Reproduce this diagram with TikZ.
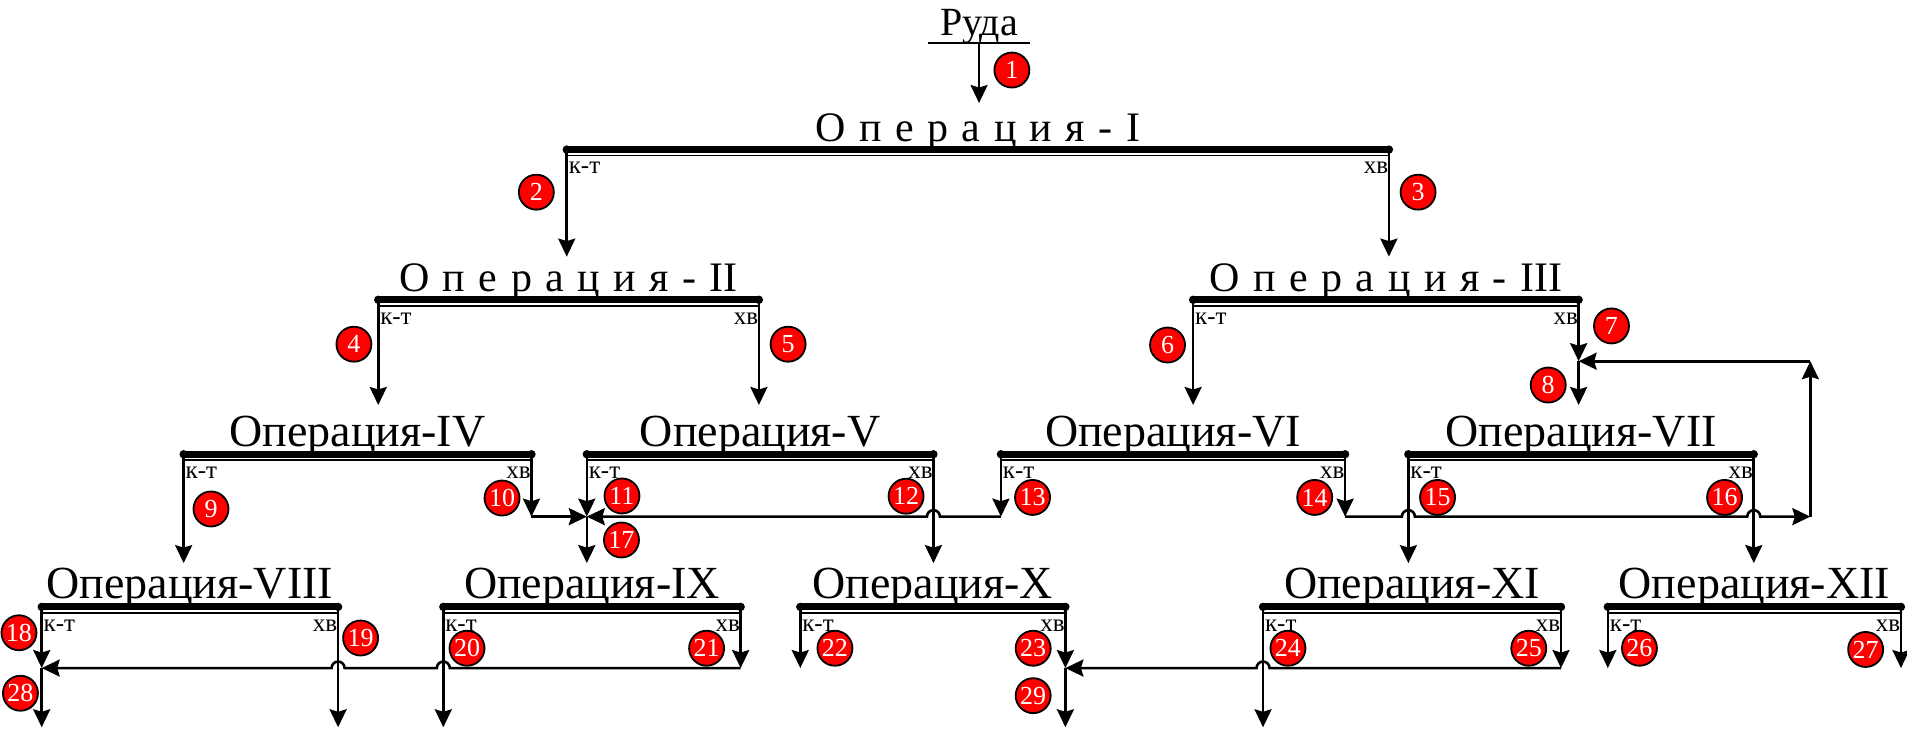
\documentclass[tikz,border=0pt]{standalone}
\usepackage{fontspec}
\setmainfont{Liberation Serif}
\usetikzlibrary{arrows.meta,calc}
\newcommand\opblock[6]{%
  \coordinate (#1-l) at (#2,#4);
  \coordinate (#1-r) at (#3,#4);
  \draw[barthick] (#1-l) -- (#1-r);
  \draw[barthin] ([yshift=-6pt]#1-l) -- ([yshift=-6pt]#1-r);
  \fill (#1-l) circle (4.2pt);
  \fill (#1-r) circle (4.2pt);
  \node[#5] (#1) at ($(#1-l)!0.5!(#1-r)+(0,-6.5)$) {#6};
  \node[kt] (#1-kt) at ($(#1-l)+(1.5,20)$) {к-т};
  \node[hv] (#1-hv) at ($(#1-r)+(-0.5,20)$) {хв};
}
\begin{document}
\begin{tikzpicture}[x=1.2162pt,y=-1.2162pt,
  flow/.style={line width=2.6pt,-{Stealth[length=18pt,width=17pt,inset=2.5pt]}},
  barthick/.style={line width=7pt},
  barthin/.style={line width=1.8pt},
  num/.style={circle,draw=black,line width=1.8pt,fill=red,text=white,minimum size=35pt,inner sep=0pt,font=\fontsize{26}{26}\selectfont},
  bigop/.style={anchor=base,inner sep=0pt,font=\fontsize{42}{42}\selectfont},
  op/.style={anchor=base,inner sep=0pt,font=\fontsize{46}{46}\selectfont},
  kt/.style={anchor=base west,inner sep=0pt,font=\fontsize{25}{25}\selectfont},
  hv/.style={anchor=base east,inner sep=0pt,font=\fontsize{25}{25}\selectfont},
]
\useasboundingbox (0,0) rectangle (1568,599);

% Ore
\node[anchor=base,inner sep=0pt,font=\fontsize{40}{40}\selectfont] (ruda) at (805,28.8) {Руда};
\coordinate (r-l) at (763,35.4);
\coordinate (r-r) at (847,35.4);
\coordinate (r-m) at (805,35.4);
\draw[line width=1.9pt] (r-l) -- (r-r);

% operations
\opblock{I}{466}{1142}{123}{bigop}{\spaceskip=13.5pt О п е р а ц и я - I}
\opblock{II}{311}{624}{246.5}{bigop}{\spaceskip=13.5pt О п е р а ц и я - II}
\opblock{III}{981}{1298}{246.5}{bigop}{\spaceskip=13.5pt О п е р а ц и я - III}
\opblock{IV}{151}{437}{373.5}{op}{Операция-IV}
\opblock{V}{482.5}{767.5}{373.5}{op}{Операция-V}
\opblock{VI}{823}{1106}{373.5}{op}{Операция-VI}
\opblock{VII}{1158}{1442}{373.5}{op}{Операция-VII}
\opblock{VIII}{34.3}{278}{499}{op}{Операция-VIII}
\opblock{IX}{364.5}{609}{499}{op}{Операция-IX}
\opblock{X}{658}{876}{499}{op}{Операция-X}
\opblock{XI}{1038.5}{1283.5}{499}{op}{Операция-XI}
\opblock{XII}{1322}{1563}{499}{op}{Операция-XII}

% connector end points
\coordinate (I-in) at (805,84.7);
\coordinate (II-in) at (466,211);
\coordinate (III-in) at (1142,211);
\coordinate (IV-in) at (311,333);
\coordinate (V-in) at (624,333);
\coordinate (VI-in) at (981,333);
\coordinate (j7) at (1298,297);
\coordinate (VII-in) at (1298,333);
\coordinate (j10) at (437,424.8);
\coordinate (j17) at (482.5,424.8);
\coordinate (IX-in) at (482.5,463);
\coordinate (j13) at (823,424.8);
\coordinate (j14) at (1106,424.8);
\coordinate (jR) at (1488.5,424.8);
\coordinate (jT) at (1488.5,297);
\coordinate (VIII-in) at (151,463);
\coordinate (X-in) at (767.5,463);
\coordinate (XI-in) at (1158,463);
\coordinate (XII-in) at (1442,463);
\coordinate (j18) at (34.3,549.3);
\coordinate (o28) at (34.3,598);
\coordinate (o19) at (278,598);
\coordinate (o20) at (364.5,598);
\coordinate (j21) at (609,549.3);
\coordinate (j22) at (658,549.3);
\coordinate (j23) at (876,549.3);
\coordinate (o29) at (876,598);
\coordinate (o24) at (1038.5,598);
\coordinate (j25) at (1283.5,549.3);
\coordinate (j26) at (1322,549.3);
\coordinate (j27) at (1563,549.3);
% line jump points
\coordinate (h1) at (V-r |- j13);
\coordinate (h2) at (VII-l |- j14);
\coordinate (h3) at (VII-r |- j14);
\coordinate (h4) at (IX-l |- j21);
\coordinate (h5) at (VIII-r |- j21);
\coordinate (h6) at (XI-l |- j25);

% connectors
\draw[flow] (r-m) -- (I-in);
\draw[flow] (I-l) -- (II-in);
\draw[flow] (I-r) -- (III-in);
\draw[flow] (II-l) -- (IV-in);
\draw[flow] (II-r) -- (V-in);
\draw[flow] (III-l) -- (VI-in);
\draw[flow] (III-r) -- (j7);
\draw[flow] (j7) -- (VII-in);
\draw[flow] (IV-l) -- (VIII-in);
\draw[flow] (IV-r) -- (j10);
\draw[flow] (j10) -- (j17);
\draw[flow] (V-l) -- (j17);
\draw[flow] (j17) -- (IX-in);
\draw[flow] (V-r) -- (X-in);
\draw[flow] (VI-l) -- (j13);
\draw[flow] (j13) -- ([xshift=6.5pt]h1) arc[start angle=0,end angle=180,radius=6.5pt] -- (j17);
\draw[flow] (VI-r) -- (j14);
\draw[flow] (j14) -- ([xshift=-6.5pt]h2) arc[start angle=180,end angle=0,radius=6.5pt]
  -- ([xshift=-6.5pt]h3) arc[start angle=180,end angle=0,radius=6.5pt] -- (jR);
\draw[flow] (jR) -- (jT);
\draw[flow] (jT) -- (j7);
\draw[flow] (VII-l) -- (XI-in);
\draw[flow] (VII-r) -- (XII-in);
\draw[flow] (VIII-l) -- (j18);
\draw[flow] (j18) -- (o28);
\draw[flow] (VIII-r) -- (o19);
\draw[flow] (IX-l) -- (o20);
\draw[flow] (IX-r) -- (j21);
\draw[flow] (j21) -- ([xshift=6.5pt]h4) arc[start angle=0,end angle=180,radius=6.5pt]
  -- ([xshift=6.5pt]h5) arc[start angle=0,end angle=180,radius=6.5pt] -- (j18);
\draw[flow] (X-l) -- (j22);
\draw[flow] (X-r) -- (j23);
\draw[flow] (j23) -- (o29);
\draw[flow] (XI-l) -- (o24);
\draw[flow] (XI-r) -- (j25);
\draw[flow] (j25) -- ([xshift=6.5pt]h6) arc[start angle=0,end angle=180,radius=6.5pt] -- (j23);
\draw[flow] (XII-l) -- (j26);
\draw[flow] (XII-r) -- (j27);

% stream numbers
\node[num] (c1) at (832,57.6) {1};
\node[num] (c2) at (441,158) {2};
\node[num] (c3) at (1166,158) {3};
\node[num] (c4) at (291,283) {4};
\node[num] (c5) at (648,283) {5};
\node[num] (c6) at (960,283.7) {6};
\node[num] (c7) at (1325,268) {7};
\node[num] (c8) at (1273,316.6) {8};
\node[num] (c9) at (173.5,418.5) {9};
\node[num] (c10) at (412.8,409.5) {10};
\node[num] (c11) at (511.4,407.8) {11};
\node[num] (c12) at (745,408) {12};
\node[num] (c13) at (849,409) {13};
\node[num] (c14) at (1081,409) {14};
\node[num] (c15) at (1182,409) {15};
\node[num] (c16) at (1418,409) {16};
\node[num] (c17) at (511,444) {17};
\node[num] (c18) at (15.6,520.3) {18};
\node[num] (c19) at (296.5,524.6) {19};
\node[num] (c20) at (384,533) {20};
\node[num] (c21) at (581,533) {21};
\node[num] (c22) at (686.5,533) {22};
\node[num] (c23) at (849.5,533) {23};
\node[num] (c24) at (1059,533) {24};
\node[num] (c25) at (1257,533) {25};
\node[num] (c26) at (1348,533) {26};
\node[num] (c27) at (1534,534) {27};
\node[num] (c28) at (16.8,570) {28};
\node[num] (c29) at (849.5,572) {29};
\end{tikzpicture}
\end{document}
